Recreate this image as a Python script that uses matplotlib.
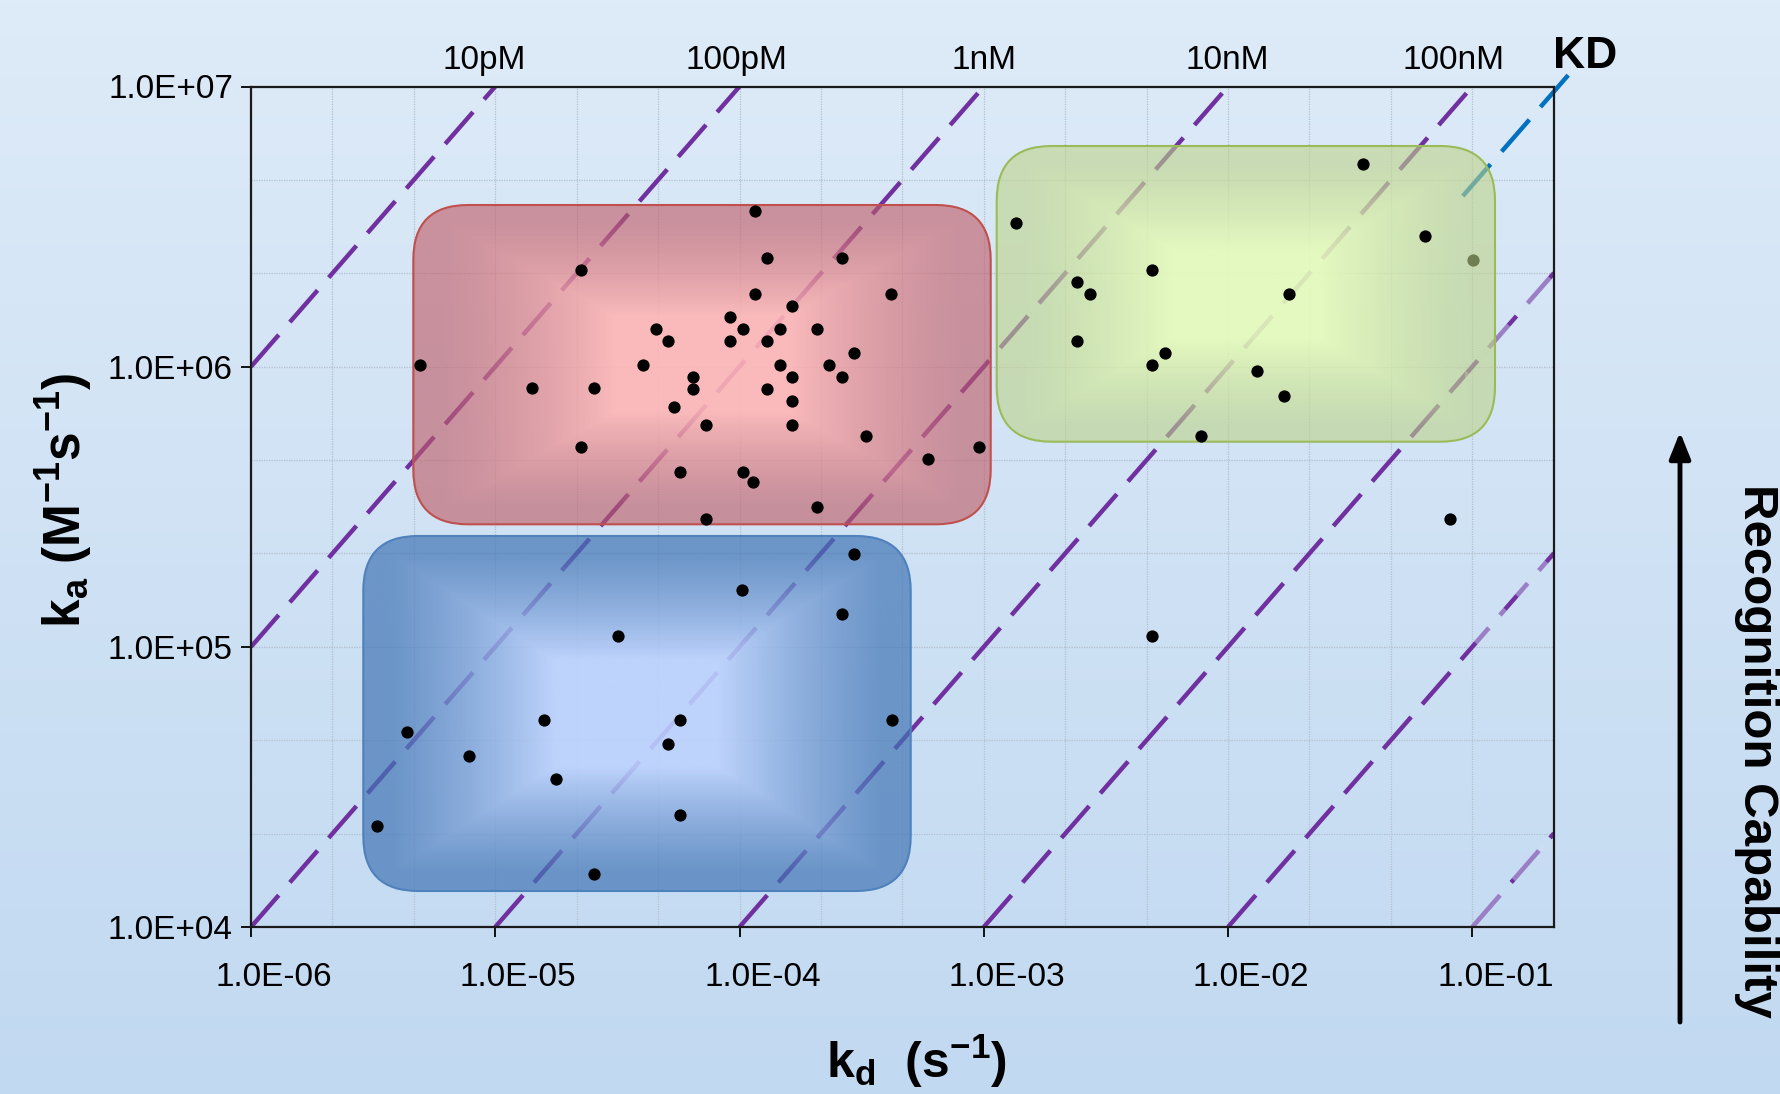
import numpy as np
import matplotlib
matplotlib.use('Agg')
import matplotlib.pyplot as plt
from matplotlib.patches import FancyBboxPatch, FancyArrowPatch, Rectangle
from matplotlib.ticker import FixedLocator, FuncFormatter, NullLocator
from matplotlib.transforms import ScaledTranslation, blended_transform_factory

plt.rcParams['font.family'] = ['Liberation Sans', 'DejaVu Sans']
plt.rcParams['mathtext.fontset'] = 'custom'
plt.rcParams['mathtext.rm'] = 'Liberation Sans'
plt.rcParams['mathtext.it'] = 'Liberation Sans:italic'
plt.rcParams['mathtext.bf'] = 'Liberation Sans:bold'

# rate constants: kd in 1/s, ka in 1/(M s)
redKd = [2.25e-5, 4.9e-6, 1.41e-5, 2.53e-5, 2.25e-5, 4.53e-5, 5.1e-5, 4.04e-5,
         6.45e-5, 6.45e-5, 5.38e-5, 5.73e-5, 1.16e-4, 1.30e-4, 2.63e-4, 1.16e-4,
         4.18e-4, 1.64e-4, 9.1e-5, 1.03e-4, 1.46e-4, 2.07e-4, 9.1e-5, 1.30e-4,
         2.94e-4, 1.46e-4, 2.33e-4, 1.64e-4, 2.63e-4, 1.30e-4, 1.64e-4, 7.3e-5,
         1.64e-4, 3.3e-4, 9.55e-4, 5.9e-4, 1.03e-4, 1.14e-4, 2.07e-4, 7.3e-5]
redKa = [2.21e6, 1.01e6, 8.4e5, 8.4e5, 5.16e5, 1.36e6, 1.23e6, 1.01e6,
         9.17e5, 8.35e5, 7.2e5, 4.22e5, 3.6e6, 2.44e6, 2.44e6, 1.81e6,
         1.81e6, 1.65e6, 1.5e6, 1.36e6, 1.36e6, 1.36e6, 1.23e6, 1.23e6,
         1.12e6, 1.01e6, 1.01e6, 9.21e5, 9.21e5, 8.35e5, 7.56e5, 6.21e5,
         6.21e5, 5.66e5, 5.16e5, 4.67e5, 4.22e5, 3.89e5, 3.15e5, 2.86e5]

greenKd = [1.35e-3, 2.41e-3, 2.72e-3, 4.87e-3, 2.41e-3, 5.51e-3, 4.87e-3,
           7.78e-3, 3.58e-2, 6.42e-2, 1.77e-2, 1.32e-2, 1.69e-2]
greenKa = [3.25e6, 2.0e6, 1.81e6, 2.21e6, 1.23e6, 1.12e6, 1.01e6,
           5.66e5, 5.29e6, 2.93e6, 1.81e6, 9.68e5, 7.88e5]

blueKd = [3.18e-5, 4.36e-6, 7.8e-6, 1.58e-5, 1.78e-5, 3.27e-6, 2.53e-5,
          2.95e-4, 1.02e-4, 2.63e-4, 5.73e-5, 5.09e-5, 4.19e-4, 5.73e-5]
blueKa = [1.09e5, 4.98e4, 4.09e4, 5.48e4, 3.38e4, 2.3e4, 1.55e4,
          2.14e5, 1.6e5, 1.31e5, 5.48e4, 4.5e4, 5.48e4, 2.52e4]

otherKd = [4.87e-3, 8.07e-2]
otherKa = [1.09e5, 2.86e5]

# point sitting behind the green panel
hiddenKd = [0.101]
hiddenKa = [2.4e6]

# iso-affinity lines, KD = kd / ka (M)
kdLines = [1e-12, 1e-11, 1e-10, 1e-9, 1e-8, 1e-7, 1e-6, 1e-5]
kdHighlight = 2.25e-8
affinityLabels = ['10pM', '100pM', '1nM', '10nM', '100nM']

xTicks = [1e-6, 1e-5, 1e-4, 1e-3, 1e-2, 1e-1]
yTicks = [1e4, 1e5, 1e6, 1e7]

xmin, xmax = 1e-6, 0.216
ymin, ymax = 1e4, 1e7

W, H = 1781, 1094
fig = plt.figure(figsize=(W / 100, H / 100), dpi=100)

# soft blue backdrop
bg = fig.add_axes([0, 0, 1, 1], zorder=-10)
top = np.array([222, 235, 248]) / 255
bottom = np.array([193, 217, 241]) / 255
ramp = np.linspace(0, 1, 256)[:, None]
bg.imshow((bottom + (top - bottom) * ramp)[:, None, :], aspect='auto',
          origin='lower', extent=(0, 1, 0, 1))
bg.axis('off')

axL, axT, axR, axB = 251, 86.5, 1554, 927
ax = fig.add_axes([axL / W, 1 - axB / H, (axR - axL) / W, (axB - axT) / H])
ax.set_facecolor('none')
ax.set_xscale('log')
ax.set_yscale('log')

# grid every third of a decade
for v in 10 ** (np.arange(-18, -1) / 3):
    ax.axvline(v, color='#b3bfcc', lw=0.9, ls=(0, (1, 1)), zorder=0.5)
for v in 10 ** (np.arange(12, 22) / 3):
    ax.axhline(v, color='#b3bfcc', lw=0.9, ls=(0, (1, 1)), zorder=0.5)

# the right-hand strip shows the lines paler
fade = Rectangle((0.093, ymin), xmax - 0.093, 4e6 - ymin, transform=ax.transData)

dash = (0, (9.5, 3.8))
for KD in kdLines:
    start = max(xmin, KD * ymin)
    end = min(xmax, KD * ymax)
    xs = [start, end]
    ys = [start / KD, end / KD]
    ax.plot(xs, ys, color='#7030a0', lw=3.2, ls=dash, zorder=1)
    pale, = ax.plot(xs, ys, color=(0.82, 0.88, 0.95), alpha=0.45, lw=3.4,
                    ls=dash, zorder=1.1)
    pale.set_clip_path(fade)

hx = np.array([0.247, 0.083])
ax.plot(hx, hx / kdHighlight, color='#0070c0', lw=3.2, ls=dash, zorder=1,
        clip_on=False)

ax.scatter(hiddenKd, hiddenKa, s=78, c='black', linewidths=0, zorder=1.8)

axW, axH = axR - axL, axB - axT


def shadedPanel(x0, y0, x1, y1, edgeRgb, centerRgb, outline, edgeAlpha, centerAlpha):
    patch = FancyBboxPatch((x0, y0), x1 - x0, y1 - y0,
                           boxstyle='round,pad=0,rounding_size=0.042',
                           mutation_aspect=axW / axH, transform=ax.transAxes,
                           facecolor='none', edgecolor=outline, lw=1.5, zorder=2.2)
    ax.add_patch(patch)
    n = 300
    u = np.linspace(-1, 1, n)
    d = np.maximum(np.abs(u)[None, :], np.abs(u)[:, None])
    t = np.clip((d - 0.3) / 0.6, 0, 1)
    edgeRgb = np.array(edgeRgb) / 255
    centerRgb = np.array(centerRgb) / 255
    rgba = np.zeros((n, n, 4))
    rgba[..., :3] = centerRgb + (edgeRgb - centerRgb) * t[..., None]
    rgba[..., 3] = centerAlpha + (edgeAlpha - centerAlpha) * t
    im = ax.imshow(rgba, extent=(x0, x1, y0, y1), transform=ax.transAxes,
                   aspect='auto', origin='lower', interpolation='bilinear', zorder=2)
    im.set_clip_path(patch)


def frac(px, py):
    return (px - axL) / axW, (axB - py) / axH


rx0, ry0 = frac(413.3, 524.3)
rx1, ry1 = frac(990.7, 205)
shadedPanel(rx0, ry0, rx1, ry1, (192, 93, 103), (255, 182, 182), '#c0504d', 0.62, 0.9)
gx0, gy0 = frac(996.7, 441.7)
gx1, gy1 = frac(1495, 146)
shadedPanel(gx0, gy0, gx1, gy1, (189, 211, 137), (230, 252, 186), '#9bbb59', 0.6, 0.9)
bx0, by0 = frac(363.3, 891)
bx1, by1 = frac(910.7, 536)
shadedPanel(bx0, by0, bx1, by1, (66, 117, 181), (188, 210, 253), '#4f81bd', 0.7, 0.9)

for kd, ka in [(redKd, redKa), (greenKd, greenKa), (blueKd, blueKa), (otherKd, otherKa)]:
    ax.scatter(kd, ka, s=78, c='black', linewidths=0, zorder=4)

ax.set_xlim(xmin, xmax)
ax.set_ylim(ymin, ymax)

ax.xaxis.set_major_locator(FixedLocator(xTicks))
ax.yaxis.set_major_locator(FixedLocator(yTicks))
ax.xaxis.set_minor_locator(NullLocator())
ax.yaxis.set_minor_locator(NullLocator())
sci = FuncFormatter(lambda v, pos: f'{v:.1E}')
ax.xaxis.set_major_formatter(sci)
ax.yaxis.set_major_formatter(sci)
ax.tick_params(axis='both', direction='out', length=7, width=1.3, labelsize=24,
               colors='black')
ax.tick_params(axis='x', pad=18)
ax.tick_params(axis='y', pad=6)
shift = ScaledTranslation(23 / 100, 0, fig.dpi_scale_trans)
for label in ax.xaxis.get_majorticklabels():
    label.set_transform(label.get_transform() + shift)

for side in ['left', 'bottom', 'top', 'right']:
    ax.spines[side].set_linewidth(1.6)
    ax.spines[side].set_color('#1a1a1a')

# affinity labels above the frame
topTrans = blended_transform_factory(ax.transData, ax.transAxes)
labelKd = [8.98e-6, 9.69e-5, 9.98e-4, 9.94e-3, 8.36e-2]
for pos, text in zip(labelKd, affinityLabels):
    ax.text(pos, 1.0214, text, transform=topTrans, ha='center', va='baseline',
            fontsize=24)
ax.text(0.999, 1.022, 'KD', transform=ax.transAxes, ha='left', va='baseline',
        fontsize=32, fontweight='bold')

fig.text(916.5 / W, 1 - 1078 / H, r'$\mathbf{k_d\ \ (s^{-1})}$', ha='center',
         va='baseline', fontsize=36)
fig.text(64 / W, 1 - 500 / H, r'$\mathbf{k_a\ (M^{-1}s^{-1})}$', ha='center',
         va='center', rotation=90, fontsize=37)

fig.add_artist(FancyArrowPatch((1680 / W, 1 - 1022 / H), (1680 / W, 1 - 432 / H),
                               transform=fig.transFigure,
                               arrowstyle='-|>,head_length=0.4,head_width=0.16',
                               mutation_scale=40, lw=3.5, color='black',
                               shrinkA=0, shrinkB=0))
fig.text(1734 / W, 1 - 751 / H, 'Recognition Capability', rotation=-90,
         ha='left', va='center', fontsize=35.5, fontweight='bold')

fig.savefig('out.png', dpi=100)
